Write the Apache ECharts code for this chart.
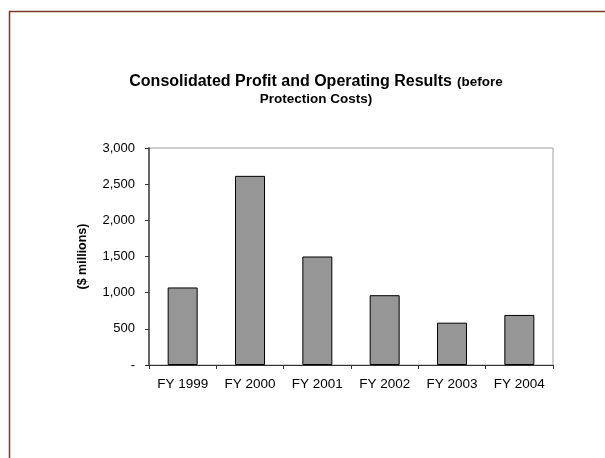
<!DOCTYPE html>
<html><head><meta charset="utf-8">
<script src="https://cdn.jsdelivr.net/npm/echarts@6/dist/echarts.min.js"></script>
<style>html,body{margin:0;padding:0;background:#fff}#c{width:605px;height:458px}</style>
</head><body><div id="c"></div>
<script>
var categories = ['FY 1999','FY 2000','FY 2001','FY 2002','FY 2003','FY 2004'];
var profit = [1072, 2615, 1500, 965, 585, 692];
var yTicks = [0, 500, 1000, 1500, 2000, 2500, 3000];

var chart = echarts.init(document.getElementById('c'), null, {renderer:'canvas'});
var F = '"Liberation Sans", Arial, sans-serif';
chart.setOption({
  animation:false,
  backgroundColor:'#fff',
  graphic:[{type:'rect', shape:{x:9.5,y:11.5,width:700,height:600}, style:{fill:'none', stroke:'#7a3a2a', lineWidth:1.5}, silent:true}],
  title:{
    left:311, top:68, textAlign:'center',
    text:'{a|Consolidated Profit and Operating Results} {b|(before}\n{b|Protection Costs)}',
    textStyle:{ align:'center', fontFamily:F, rich:{
      a:{fontSize:16, fontWeight:'bold', color:'#000', fontFamily:F, lineHeight:17},
      b:{fontSize:13.5, fontWeight:'bold', color:'#000', fontFamily:F, lineHeight:17}
    }}
  },
  grid:{left:149, right:52, top:148, bottom:93, show:true, borderColor:'#a0a0a0', borderWidth:1},
  xAxis:{
    type:'category', data:categories, boundaryGap:true,
    axisLine:{lineStyle:{color:'#333', width:1}},
    axisTick:{show:true, alignWithLabel:false, length:4, inside:false, lineStyle:{color:'#333'}},
    axisLabel:{color:'#000', fontFamily:F, fontSize:13.5, margin:12}
  },
  yAxis:{
    type:'value', min:0, max:3000, interval:500,
    name:'($ millions)', nameLocation:'middle', nameGap:60, nameRotate:90,
    nameTextStyle:{fontFamily:F, fontSize:12.5, fontWeight:'bold', color:'#000'},
    axisLine:{show:true, lineStyle:{color:'#666', width:2}},
    axisTick:{show:true, length:4, lineStyle:{color:'#333'}},
    splitLine:{show:false},
    axisLabel:{color:'#000', fontFamily:F, fontSize:13, margin:14,
      formatter:function(v){ return v===0 ? '-' : v.toLocaleString('en-US'); }}
  },
  series:[{
    type:'bar', data:profit, barWidth:30,
    itemStyle:{color:'#969696', borderColor:'#000', borderWidth:1}
  }]
});
</script></body></html>
